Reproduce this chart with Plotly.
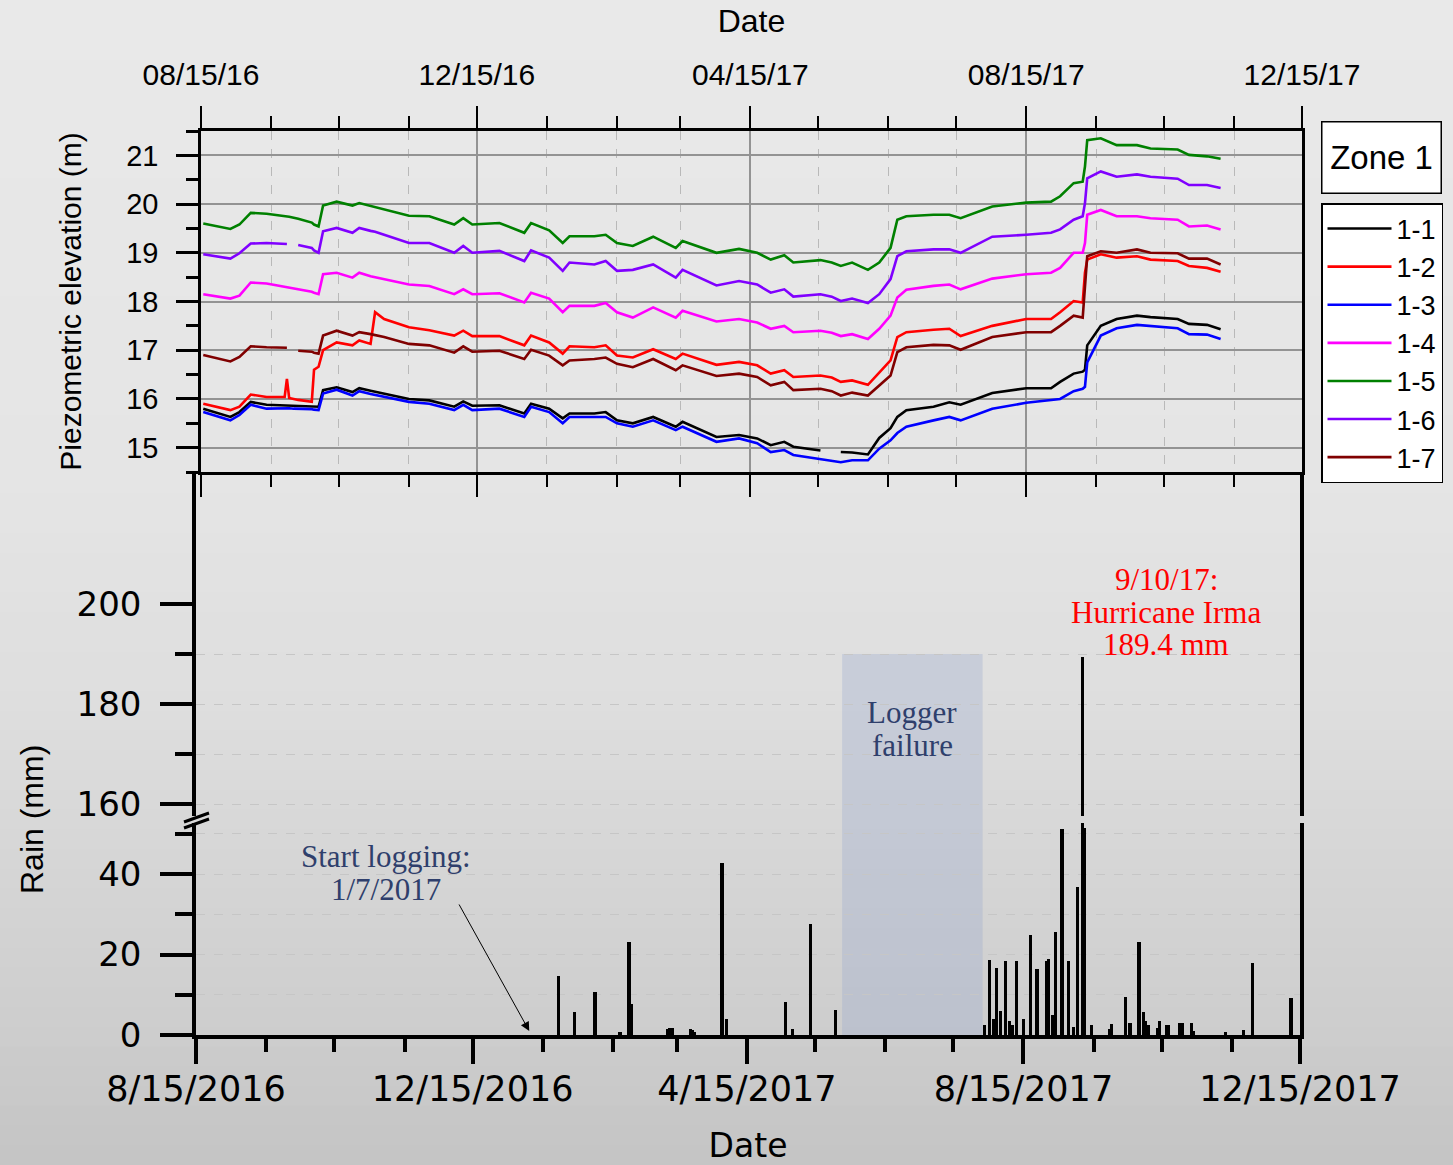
import numpy as np
import plotly.graph_objects as go

W, H = 1453, 1165

# ---------------- data: piezometric elevation (m) ----------------
piezo_dates = [
    "2016-08-16", "2016-08-28", "2016-09-01", "2016-09-06", "2016-09-13", "2016-09-21", "2016-09-22", "2016-09-23", "2016-09-25", "2016-09-27",
    "2016-10-03", "2016-10-04", "2016-10-06", "2016-10-08", "2016-10-14", "2016-10-21", "2016-10-24", "2016-10-29", "2016-10-31", "2016-11-04",
    "2016-11-15", "2016-11-24", "2016-12-05", "2016-12-09", "2016-12-13", "2016-12-25", "2017-01-05", "2017-01-08", "2017-01-16", "2017-01-22",
    "2017-01-25", "2017-02-05", "2017-02-10", "2017-02-15", "2017-02-22", "2017-03-03", "2017-03-13", "2017-03-16", "2017-03-31", "2017-04-10",
    "2017-04-18", "2017-04-24", "2017-04-30", "2017-05-04", "2017-05-16", "2017-05-21", "2017-05-25", "2017-05-30", "2017-06-06", "2017-06-11",
    "2017-06-16", "2017-06-19", "2017-06-23", "2017-07-05", "2017-07-12", "2017-07-17", "2017-07-31", "2017-08-15", "2017-08-26", "2017-08-30",
    "2017-09-05", "2017-09-09", "2017-09-10", "2017-09-11", "2017-09-17", "2017-09-24", "2017-10-03", "2017-10-09", "2017-10-21", "2017-10-26",
    "2017-11-03", "2017-11-09"]

p1_1 = [15.80, 15.63, 15.73, 15.94, 15.88, 15.87, 15.87, 15.87, 15.86, 15.86,
        15.85, 15.85, 15.84, 16.18, 16.24, 16.14, 16.22, 16.17, 16.15, 16.11,
        16.00, 15.97, 15.84, 15.95, 15.86, 15.87, 15.70, 15.90, 15.80, 15.60,
        15.70, 15.70, 15.73, 15.56, 15.50, 15.63, 15.43, 15.53, 15.22, 15.26,
        15.19, 15.05, 15.12, 15.02, 14.94, None, 14.91, 14.90, 14.86, 15.20,
        15.40, 15.63, 15.77, 15.84, 15.93, 15.88, 16.12, 16.22, 16.22, 16.35,
        16.52, 16.56, 16.60, 17.10, 17.50, 17.64, 17.71, 17.68, 17.64, 17.54,
        17.52, 17.43]
p1_2 = [15.90, 15.77, 15.84, 16.09, 16.04, 16.04, 16.41, 16.02, 16.00, 15.98,
        15.94, 16.60, 16.66, 17.00, 17.16, 17.10, 17.20, 17.13, 17.78, 17.64,
        17.47, 17.41, 17.30, 17.40, 17.29, 17.29, 17.10, 17.30, 17.16, 16.93,
        17.08, 17.06, 17.10, 16.89, 16.85, 17.02, 16.82, 16.93, 16.70, 16.76,
        16.69, 16.52, 16.59, 16.45, 16.48, 16.44, 16.35, 16.38, 16.29, 16.55,
        16.79, 17.27, 17.37, 17.42, 17.44, 17.29, 17.50, 17.64, 17.64, 17.78,
        18.01, 17.98, 18.59, 18.86, 18.97, 18.90, 18.93, 18.86, 18.83, 18.73,
        18.69, 18.61]
p1_3 = [15.73, 15.56, 15.67, 15.88, 15.80, 15.82, 15.82, 15.81, 15.80, 15.80,
        15.79, 15.78, 15.77, 16.11, 16.19, 16.07, 16.16, 16.10, 16.08, 16.04,
        15.94, 15.90, 15.77, 15.88, 15.77, 15.80, 15.63, 15.84, 15.73, 15.50,
        15.63, 15.63, 15.63, 15.50, 15.43, 15.56, 15.36, 15.43, 15.12, 15.19,
        15.09, 14.91, 14.95, 14.85, 14.76, 14.72, 14.70, 14.74, 14.74, 14.98,
        15.15, 15.30, 15.43, 15.56, 15.63, 15.56, 15.80, 15.92, 15.97, 16.00,
        16.16, 16.21, 16.25, 16.75, 17.30, 17.45, 17.52, 17.50, 17.45, 17.33,
        17.32, 17.23]
p1_4 = [18.15, 18.06, 18.12, 18.39, 18.37, 18.30, 18.29, 18.29, 18.27, 18.26,
        18.20, 18.18, 18.15, 18.56, 18.59, 18.49, 18.59, 18.52, 18.50, 18.46,
        18.35, 18.32, 18.15, 18.25, 18.15, 18.17, 17.98, 18.18, 18.06, 17.78,
        17.91, 17.91, 17.97, 17.78, 17.67, 17.88, 17.67, 17.81, 17.59, 17.64,
        17.57, 17.44, 17.50, 17.37, 17.40, 17.36, 17.29, 17.33, 17.23, 17.44,
        17.71, 18.08, 18.24, 18.32, 18.35, 18.25, 18.47, 18.56, 18.59, 18.69,
        19.00, 19.00, 19.20, 19.78, 19.88, 19.75, 19.75, 19.71, 19.68, 19.54,
        19.56, 19.48]
p1_5 = [19.60, 19.49, 19.58, 19.82, 19.80, 19.76, 19.75, 19.74, 19.72, 19.70,
        19.62, 19.58, 19.54, 19.97, 20.05, 19.97, 20.02, 19.96, 19.94, 19.88,
        19.76, 19.75, 19.58, 19.71, 19.58, 19.61, 19.41, 19.61, 19.46, 19.20,
        19.34, 19.34, 19.37, 19.20, 19.14, 19.33, 19.10, 19.24, 19.00, 19.08,
        19.00, 18.86, 18.95, 18.80, 18.85, 18.80, 18.73, 18.80, 18.65, 18.80,
        19.10, 19.68, 19.75, 19.78, 19.78, 19.71, 19.95, 20.03, 20.05, 20.16,
        20.43, 20.46, 20.77, 21.31, 21.35, 21.21, 21.21, 21.14, 21.12, 21.01,
        20.98, 20.93]
p1_6 = [18.97, 18.88, 18.99, 19.19, 19.20, 19.18, 19.18, None, None, 19.16,
        19.10, 19.05, 19.00, 19.44, 19.51, 19.41, 19.51, 19.45, 19.43, 19.37,
        19.20, 19.20, 19.00, 19.14, 19.00, 19.04, 18.83, 19.05, 18.90, 18.63,
        18.80, 18.76, 18.83, 18.63, 18.65, 18.76, 18.49, 18.65, 18.33, 18.42,
        18.35, 18.18, 18.25, 18.10, 18.15, 18.10, 18.01, 18.06, 17.97, 18.15,
        18.46, 18.93, 19.03, 19.07, 19.07, 19.00, 19.33, 19.37, 19.41, 19.48,
        19.68, 19.75, 20.02, 20.53, 20.67, 20.56, 20.61, 20.56, 20.52, 20.39,
        20.39, 20.33]
p1_7 = [16.90, 16.77, 16.86, 17.08, 17.06, 17.05, 17.05, None, None, 16.99,
        16.97, 16.95, 16.93, 17.30, 17.40, 17.30, 17.37, 17.33, 17.31, 17.27,
        17.13, 17.10, 16.95, 17.08, 16.97, 16.99, 16.82, 17.01, 16.89, 16.69,
        16.79, 16.82, 16.85, 16.72, 16.65, 16.82, 16.59, 16.69, 16.47, 16.52,
        16.45, 16.28, 16.35, 16.18, 16.21, 16.16, 16.07, 16.13, 16.07, 16.28,
        16.48, 16.96, 17.06, 17.11, 17.10, 17.01, 17.27, 17.37, 17.37, 17.50,
        17.71, 17.67, 18.42, 18.93, 19.03, 19.00, 19.07, 19.00, 18.99, 18.88,
        18.88, 18.76]

series_names = ["1-1", "1-2", "1-3", "1-4", "1-5", "1-6", "1-7"]
series_values = [p1_1, p1_2, p1_3, p1_4, p1_5, p1_6, p1_7]
series_colors = ["#000000", "#ff0000", "#0000ff", "#ff00ff", "#008000", "#8000ff", "#800000"]

# ---------------- data: daily rain (mm) ----------------
rain_dates = [
    "2017-01-22", "2017-01-29", "2017-02-07", "2017-02-18", "2017-02-22", "2017-02-23", "2017-03-11", "2017-03-12", "2017-03-13",
    "2017-03-21", "2017-03-22", "2017-03-23", "2017-04-04", "2017-04-06", "2017-05-02", "2017-05-05", "2017-05-13", "2017-05-24",
    "2017-07-29", "2017-07-31", "2017-08-02", "2017-08-03", "2017-08-05", "2017-08-07", "2017-08-09", "2017-08-10", "2017-08-12",
    "2017-08-15", "2017-08-18", "2017-08-21", "2017-08-25", "2017-08-26", "2017-08-28", "2017-08-29", "2017-09-01", "2017-09-04",
    "2017-09-06", "2017-09-08", "2017-09-10", "2017-09-11", "2017-09-14", "2017-09-22", "2017-09-23", "2017-09-29", "2017-10-01",
    "2017-10-05", "2017-10-07", "2017-10-08", "2017-10-09", "2017-10-13", "2017-10-14", "2017-10-17", "2017-10-18", "2017-10-23",
    "2017-10-24", "2017-10-28", "2017-10-29", "2017-11-12", "2017-11-20", "2017-11-24", "2017-12-11"]
rain_mm = [
    14.7, 5.6, 10.6, 0.8, 23.2, 7.7, 1.6, 1.8, 1.7,
    1.5, 1.2, 0.8, 42.7, 4.0, 8.3, 1.5, 27.6, 6.2,
    2.5, 18.6, 4.0, 16.6, 6.0, 18.5, 3.6, 2.5, 18.5,
    4.1, 24.9, 16.4, 18.5, 18.9, 4.9, 25.5, 51.2, 18.5,
    1.9, 36.7, 189.4, 51.4, 2.5, 1.5, 2.7, 9.4, 3.0,
    23.0, 5.8, 3.6, 2.5, 1.7, 3.6, 2.5, 2.5, 2.9,
    2.9, 3.1, 1.1, 0.7, 1.3, 17.9, 9.1]

major_dates = ["2016-08-15", "2016-12-15", "2017-04-15", "2017-08-15", "2017-12-15"]
minor_dates = ["2016-09-15", "2016-10-15", "2016-11-15", "2017-01-15", "2017-02-15", "2017-03-15",
               "2017-05-15", "2017-06-15", "2017-07-15", "2017-09-15", "2017-10-15", "2017-11-15"]
x_range = ["2016-08-15", "2017-12-15"]
logger_gap = ["2017-05-27", "2017-07-28"]


def fx(px):
    return px / W


def fy(py):
    return 1 - py / H


fig = go.Figure()

for name, vals, col in zip(series_names, series_values, series_colors):
    fig.add_trace(go.Scatter(x=piezo_dates, y=vals, name=name, mode="lines",
                             line=dict(color=col, width=2.6), connectgaps=False,
                             xaxis="x", yaxis="y"))

DAY_MS = 86400000
for ax in ["y2", "y3"]:
    fig.add_trace(go.Bar(x=rain_dates, y=rain_mm, width=1.4 * DAY_MS, marker=dict(color="black", line=dict(width=0)),
                         showlegend=False, xaxis="x2", yaxis=ax))

# ---------------- background gradient (decoration) ----------------
shapes = []
grad_y = [0, 480, 700, 1000, 1165]
grad_v = [233, 229, 222, 207, 196]
edges = np.linspace(0, H, 60)
for i in range(len(edges) - 1):
    a, b = edges[i], edges[i + 1]
    v = int(round(np.interp((a + b) / 2, grad_y, grad_v)))
    shapes.append(dict(type="rect", xref="paper", yref="paper", x0=0, x1=1,
                       y0=max(0, fy(b + 1)), y1=fy(a), fillcolor=f"rgb({v},{v},{v})",
                       line=dict(width=0), layer="below"))

# logger failure shading
shade = "rgba(150,165,205,0.30)"
low_dom = [fy(1035), fy(823)]
up_dom = [fy(816), fy(473)]
shapes.append(dict(type="rect", xref="x2", yref="y2", x0=logger_gap[0], x1=logger_gap[1], y0=0, y1=52.7,
                   fillcolor=shade, line=dict(width=0), layer="below"))
shapes.append(dict(type="rect", xref="x2", yref="paper", x0=logger_gap[0], x1=logger_gap[1], y0=low_dom[1], y1=up_dom[0],
                   fillcolor=shade, line=dict(width=0), layer="below"))
shapes.append(dict(type="rect", xref="x2", yref="y3", x0=logger_gap[0], x1=logger_gap[1], y0=157.6, y1=190,
                   fillcolor=shade, line=dict(width=0), layer="below"))

# axis break marks
for off in (0, 6):
    shapes.append(dict(type="line", xref="paper", yref="paper", x0=fx(184), y0=fy(822 + off), x1=fx(209), y1=fy(813 + off),
                       line=dict(color="black", width=3)))

fig.update_layout(shapes=shapes)

grid_major = "#939393"
grid_minor = "#b9b9b9"
rain_grid = "#c6c6c6"

fig.update_layout(
    width=W, height=H, margin=dict(l=0, r=0, t=0, b=0, pad=0, autoexpand=False),
    paper_bgcolor="rgb(233,233,233)", plot_bgcolor="rgba(0,0,0,0)",
    font=dict(family="Liberation Sans, Arial", color="black"),
    bargap=0,
    xaxis=dict(domain=[fx(201), fx(1302)], range=x_range, type="date", side="top", anchor="y", automargin=False,
               tickmode="array", tickvals=major_dates, tickformat="%m/%d/%y",
               ticks="outside", ticklen=22, tickwidth=2, tickcolor="black",
               showline=True, linewidth=3, linecolor="black", mirror="ticks",
               showgrid=True, gridcolor=grid_major, gridwidth=1.5,
               minor=dict(tickmode="array", tickvals=minor_dates, ticklen=12, tickwidth=2, tickcolor="black",
                          showgrid=True, gridcolor=grid_minor, griddash="dash", gridwidth=1),
               tickfont=dict(size=30), ticklabelstandoff=9,
               title=dict(text="Date", font=dict(size=32), standoff=16),
               zeroline=False),
    yaxis=dict(domain=[fy(472), fy(131)], range=[14.5, 21.5], anchor="x", automargin=False,
               tickmode="array", tickvals=[15, 16, 17, 18, 19, 20, 21],
               ticks="outside", ticklen=22, tickwidth=2.5, tickcolor="black",
               showline=True, linewidth=2.5, linecolor="black", mirror=True,
               showgrid=True, gridcolor=grid_major, gridwidth=1.5,
               minor=dict(tickmode="array", tickvals=[14.5, 15.5, 16.5, 17.5, 18.5, 19.5, 20.5, 21.5],
                          ticklen=12, tickwidth=2.5, tickcolor="black", showgrid=False),
               tickfont=dict(size=29), ticklabelstandoff=12,
               title=dict(text="Piezometric elevation (m)", font=dict(size=30), standoff=36),
               zeroline=False),
    xaxis2=dict(domain=[fx(196), fx(1300)], range=x_range, type="date", anchor="y2", automargin=False,
                tickmode="array", tickvals=major_dates, tickformat="%-m/%-d/%Y",
                ticks="outside", ticklen=25, tickwidth=4, tickcolor="black",
                showline=True, linewidth=4, linecolor="black",
                showgrid=False,
                minor=dict(tickmode="array", tickvals=minor_dates, ticklen=13, tickwidth=4, tickcolor="black",
                           showgrid=False),
                tickfont=dict(family="DejaVu Sans", size=35), ticklabelstandoff=-5,
                title=dict(text="Date", font=dict(family="DejaVu Sans", size=33), standoff=32),
                zeroline=False),
    yaxis2=dict(domain=low_dom, range=[0, 52.7], anchor="x2", automargin=False,
                tickmode="array", tickvals=[0, 20, 40],
                ticks="outside", ticklen=32, tickwidth=4, tickcolor="black",
                showline=True, linewidth=3.5, linecolor="black", mirror=True,
                showgrid=True, gridcolor=rain_grid, griddash="dash", gridwidth=1,
                minor=dict(tickmode="array", tickvals=[10, 30, 50], ticklen=17, tickwidth=4, tickcolor="black",
                           showgrid=True, gridcolor=rain_grid, griddash="dash", gridwidth=1),
                tickfont=dict(family="DejaVu Sans", size=34), ticklabelstandoff=12,
                zeroline=False),
    yaxis3=dict(domain=up_dom, range=[157.6, 226.2], anchor="x2", automargin=False,
                tickmode="array", tickvals=[160, 180, 200],
                ticks="outside", ticklen=32, tickwidth=4, tickcolor="black",
                showline=True, linewidth=3.5, linecolor="black", mirror=True,
                showgrid=False,
                minor=dict(tickmode="array", tickvals=[160, 170, 180, 190], ticklen=17, tickwidth=4, tickcolor="black",
                           showgrid=True, gridcolor=rain_grid, griddash="dash", gridwidth=1),
                tickfont=dict(family="DejaVu Sans", size=34), ticklabelstandoff=12,
                zeroline=False),
    legend=dict(x=fx(1321), y=fy(203), xanchor="left", yanchor="top",
                bgcolor="white", bordercolor="black", borderwidth=1.5,
                font=dict(size=27), itemwidth=64, tracegroupgap=0),
)

navy = "#2f3f6c"
serif = "Liberation Serif, Times New Roman"
annotations = [
    dict(text="Zone 1", xref="paper", yref="paper", x=fx(1381), y=fy(158), xanchor="center", yanchor="middle",
         showarrow=False, font=dict(size=33), bgcolor="white", bordercolor="black", borderwidth=1.5,
         width=112, height=64, borderpad=3),
    dict(text="Rain (mm)", xref="paper", yref="paper", x=fx(32), y=fy(820), xanchor="center", yanchor="middle",
         showarrow=False, textangle=-90, font=dict(size=32)),
    dict(text="", xref="x2", yref="y2", x="2017-01-09", y=1.0, showarrow=True, axref="pixel", ayref="pixel",
         ax=-71, ay=-128, arrowhead=2, arrowsize=1.8, arrowwidth=1, arrowcolor="black"),
]
# multi-line notes, one annotation per line to match the tight line spacing
notes = [
    ("Start logging:", "x2", "y2", "2016-11-07", 44.3, navy),
    ("1/7/2017", "x2", "y2", "2016-11-07", 36.1, navy),
    ("Logger", "x2", "y3", "2017-06-27", 178.4, navy),
    ("failure", "x2", "y3", "2017-06-27", 171.8, navy),
    ("9/10/17:", "x2", "y3", "2017-10-17", 205.0, "#ff0000"),
    ("Hurricane Irma", "x2", "y3", "2017-10-17", 198.4, "#ff0000"),
    ("189.4 mm", "x2", "y3", "2017-10-17", 192.0, "#ff0000"),
]
for txt, xr, yr, xv, yv, col in notes:
    annotations.append(dict(text=txt, xref=xr, yref=yr, x=xv, y=yv, xanchor="center", yanchor="middle",
                            showarrow=False, font=dict(family=serif, size=31, color=col)))
fig.update_layout(annotations=annotations)

fig.write_html("out.html")
